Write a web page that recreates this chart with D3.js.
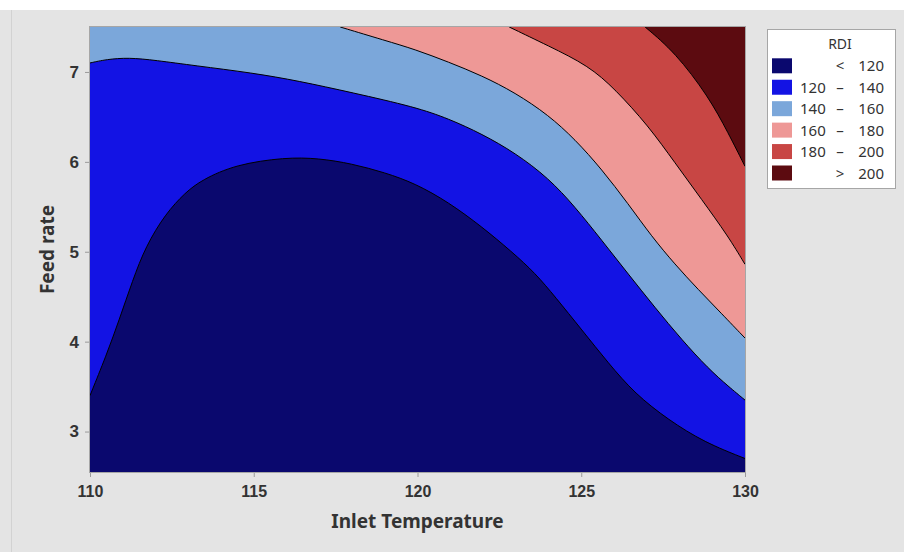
<!DOCTYPE html>
<html>
<head>
<meta charset="utf-8">
<script src="https://cdn.jsdelivr.net/npm/d3@7"></script>
<style>
  html, body { margin: 0; padding: 0; background: #e4e4e4; }
  svg { display: block; font-family: "Segoe UI", "Noto Sans", "Open Sans", sans-serif; }
</style>
</head>
<body>
<svg id="chart" width="904" height="552"></svg>
<script>
// axis ticks
const xTicks = [110, 115, 120, 125, 130];
const yTicks = [3, 4, 5, 6, 7];

// contour levels + legend
const levels = [120, 140, 160, 180, 200];
const legendLow = ['', '120', '140', '160', '180', ''];
const legendSep = ['<', '–', '–', '–', '–', '>'];
const legendHigh = ['120', '140', '160', '180', '200', '200'];
const bandColors = ['#0a086e', '#1313e4', '#7ba7da', '#ee9896', '#c84644', '#5c0b10'];

// contour lines: [inlet temperature, feed rate]
const contour120 = [[110, 3.40], [110.5, 3.85], [110.88, 4.23], [111.3, 4.68], [111.7, 5.06], [112.3, 5.42],
  [112.91, 5.66], [113.42, 5.80], [114.44, 5.97], [115.96, 6.05], [116.98, 6.04], [117.99, 5.98],
  [119.01, 5.88], [119.93, 5.76], [120.95, 5.55], [121.96, 5.28], [122.88, 5.00], [123.6, 4.76],
  [124.2, 4.50], [125.02, 4.13], [125.83, 3.76], [126.64, 3.42], [127.66, 3.13], [128.76, 2.88], [130, 2.70]];
const contour140 = [[110, 7.10], [110.5, 7.14], [111.18, 7.16], [112.0, 7.13], [113.2, 7.07], [114.95, 6.99],
  [116.37, 6.90], [118.0, 6.77], [119.93, 6.61], [120.95, 6.48], [121.97, 6.31], [122.98, 6.10],
  [124.0, 5.82], [124.81, 5.50], [125.62, 5.13], [126.44, 4.75], [127.25, 4.38], [128.07, 4.02],
  [128.88, 3.70], [129.5, 3.50], [130, 3.35]];
const contour160 = [[117.64, 7.5], [119.01, 7.35], [119.93, 7.25], [120.95, 7.11], [121.96, 6.96], [122.98, 6.77],
  [124.0, 6.52], [124.81, 6.25], [125.62, 5.92], [126.44, 5.53], [127.15, 5.17], [127.86, 4.86],
  [128.57, 4.58], [129.29, 4.31], [130, 4.04]];
const contour180 = [[122.8, 7.5], [124.0, 7.29], [125.22, 7.07], [126.03, 6.81], [127.05, 6.40], [127.86, 5.99],
  [128.68, 5.58], [129.49, 5.17], [130, 4.86]];
const contour200 = [[126.95, 7.5], [127.86, 7.22], [128.88, 6.73], [129.49, 6.32], [130, 5.95]];
const contours = [contour120, contour140, contour160, contour180, contour200];

const xDomain = [110, 130];
const yDomain = [2.55, 7.5];

const svg = d3.select('#chart');
const plot = { left: 90, right: 745, top: 27, bottom: 472 };

const x = d3.scaleLinear().domain(xDomain).range([plot.left, plot.right]);
const y = d3.scaleLinear().domain(yDomain).range([plot.bottom, plot.top]);

// page frame
svg.append('rect').attr('x', 0).attr('y', 0).attr('width', 904).attr('height', 10).attr('fill', '#ffffff');
svg.append('line').attr('x1', 11.5).attr('x2', 11.5).attr('y1', 10).attr('y2', 552)
    .attr('stroke', '#d2d2d2');

svg.append('clipPath').attr('id', 'plotClip')
    .append('rect')
    .attr('x', plot.left).attr('y', plot.top)
    .attr('width', plot.right - plot.left).attr('height', plot.bottom - plot.top);

const g = svg.append('g').attr('clip-path', 'url(#plotClip)');

// lowest band fills everything
g.append('rect')
    .attr('x', plot.left).attr('y', plot.top)
    .attr('width', plot.right - plot.left).attr('height', plot.bottom - plot.top)
    .attr('fill', bandColors[0]);

const line = d3.line()
    .x(d => x(d[0]))
    .y(d => y(d[1]))
    .curve(d3.curveBasis);

// each higher band = region above its contour, closed along the top-right corner
contours.forEach((c, i) => {
    const last = c[c.length - 1];
    const first = c[0];
    let path = line(c);
    path += 'L' + x(last[0]) + ',' + y(yDomain[1]);
    if (first[1] < yDomain[1]) {
        path += 'L' + x(first[0]) + ',' + y(yDomain[1]);
    }
    path += 'Z';
    g.append('path')
        .attr('d', path)
        .attr('fill', bandColors[i + 1]);
});

contours.forEach(c => {
    g.append('path')
        .attr('d', line(c))
        .attr('fill', 'none')
        .attr('stroke', '#000')
        .attr('stroke-width', 1);
});

// plot frame
svg.append('rect')
    .attr('x', plot.left - 0.5).attr('y', plot.top - 0.5)
    .attr('width', plot.right - plot.left + 1).attr('height', plot.bottom - plot.top + 1)
    .attr('fill', 'none')
    .attr('stroke', '#a6a6a6');

// axes
const xAxis = svg.append('g')
    .attr('transform', 'translate(0,' + (plot.bottom + 1) + ')')
    .call(d3.axisBottom(x).tickValues(xTicks).tickSize(4).tickPadding(9).tickFormat(d3.format('d')));
xAxis.select('.domain').remove();
xAxis.selectAll('.tick line').attr('stroke', '#9a9a9a');
xAxis.selectAll('.tick text')
    .attr('fill', '#333')
    .style('font-size', '16px')
    .style('font-weight', '600');

const yAxis = svg.append('g')
    .attr('transform', 'translate(' + (plot.left - 1) + ',0)')
    .call(d3.axisLeft(y).tickValues(yTicks).tickSize(4).tickPadding(6).tickFormat(d3.format('d')));
yAxis.select('.domain').remove();
yAxis.selectAll('.tick line').attr('stroke', '#9a9a9a');
yAxis.selectAll('.tick text')
    .attr('fill', '#333')
    .style('font-size', '17px')
    .style('font-weight', 'bold');

svg.append('text')
    .attr('x', (plot.left + plot.right) / 2)
    .attr('y', 528)
    .attr('text-anchor', 'middle')
    .attr('fill', '#333')
    .style('font-size', '19px')
    .style('font-weight', 'bold')
    .text('Inlet Temperature');

svg.append('text')
    .attr('transform', 'translate(54,' + ((plot.top + plot.bottom) / 2) + ') rotate(-90)')
    .attr('text-anchor', 'middle')
    .attr('fill', '#333')
    .style('font-size', '19px')
    .style('font-weight', 'bold')
    .text('Feed rate');

// legend
const legend = svg.append('g');
legend.append('rect')
    .attr('x', 767.5).attr('y', 29.5).attr('width', 128).attr('height', 159)
    .attr('fill', '#fff').attr('stroke', '#a6a6a6');
legend.append('text')
    .attr('x', 840).attr('y', 49)
    .attr('text-anchor', 'middle')
    .attr('fill', '#333')
    .style('font-size', '14px')
    .text('RDI');

const rowY = d3.scaleLinear().domain([0, 5]).range([65.8, 173]);
bandColors.forEach((col, i) => {
    const cy = rowY(i);
    legend.append('rect')
        .attr('x', 772).attr('y', cy - 7.5).attr('width', 20).attr('height', 15)
        .attr('fill', col);
    const t = legend.append('g').attr('fill', '#333').style('font-size', '15px');
    t.append('text').attr('x', 800).attr('y', cy + 5.5).text(legendLow[i]);
    t.append('text').attr('x', 840).attr('y', cy + 5.5).attr('text-anchor', 'middle').text(legendSep[i]);
    t.append('text').attr('x', 884).attr('y', cy + 5.5).attr('text-anchor', 'end').text(legendHigh[i]);
});
</script>
</body>
</html>
